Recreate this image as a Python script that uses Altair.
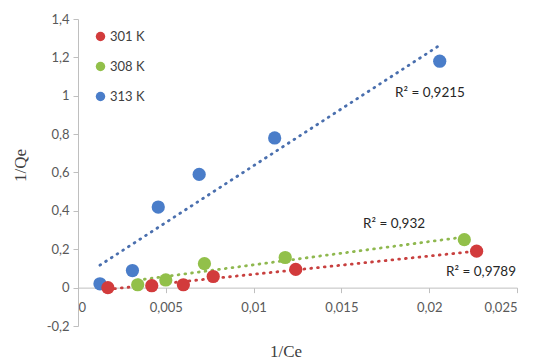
import altair as alt
import pandas as pd

# Langmuir linearisation: 1/Qe against 1/Ce at three temperatures
series_labels = ["313 K", "308 K", "301 K"]

inv_ce_313 = [0.00125, 0.0031, 0.00457, 0.0069, 0.0112, 0.0206]
inv_qe_313 = [0.02, 0.089, 0.42, 0.59, 0.78, 1.18]

inv_ce_308 = [0.0034, 0.0050, 0.0072, 0.0118, 0.0220]
inv_qe_308 = [0.015, 0.040, 0.125, 0.157, 0.250]

inv_ce_301 = [0.0017, 0.0042, 0.0060, 0.0077, 0.0124, 0.0227]
inv_qe_301 = [0.000, 0.010, 0.015, 0.058, 0.095, 0.190]

x_ticks = [0, 0.005, 0.01, 0.015, 0.02, 0.025]
y_ticks = [-0.2, 0, 0.2, 0.4, 0.6, 0.8, 1, 1.2, 1.4]

r2_labels = ["R² = 0,9215", "R² = 0,932", "R² = 0,9789"]
r2_x = [0.01805, 0.01623, 0.02096]
r2_y = [1.013, 0.334, 0.084]

legend_order = ["301 K", "308 K", "313 K"]
point_colors = ["#d23b3c", "#92c04a", "#4a7dc9"]
trend_colors = ["#c8403f", "#8fb84f", "#4a6fae"]

rows = []
for name, xs, ys in zip(series_labels,
                        [inv_ce_313, inv_ce_308, inv_ce_301],
                        [inv_qe_313, inv_qe_308, inv_qe_301]):
    for x, y in zip(xs, ys):
        rows.append({"T": name, "x": x, "y": y})
df = pd.DataFrame(rows)

labels_df = pd.DataFrame({"label": r2_labels, "x": r2_x, "y": r2_y})

W, H = 439, 307
y_min, y_max = -0.2, 1.4
zero_offset = -H * (0 - y_min) / (y_max - y_min)

comma_expr = "replace(replace(format(datum.value, '~g'), '.', ','), '\u2212', '-')"

x_scale = alt.Scale(domain=[0, 0.025], nice=False, zero=False)
y_scale = alt.Scale(domain=[y_min, y_max], nice=False, zero=False)

x_axis = alt.Axis(
    title="1/Ce", values=x_ticks, tickCount=len(x_ticks),
    labelExpr=comma_expr, offset=zero_offset, grid=False,
    labelOverlap=False,
    domainColor="#bfbfbf", tickColor="#bfbfbf", tickSize=5,
    labelColor="#595959", labelFont="Lato", labelFontSize=13,
    labelPadding=9,
    titleFont="Liberation Serif", titleFontSize=17, titleFontWeight="normal",
    titleColor="#404040", titleBaseline="top", titleY=-zero_offset + 17,
    titleX=W / 2 - 12,
)
y_axis = alt.Axis(
    title="1/Qe", values=y_ticks, tickCount=len(y_ticks),
    labelExpr=comma_expr, grid=False, labelOverlap=False,
    domainColor="#bfbfbf", tickColor="#bfbfbf", tickSize=5,
    labelColor="#595959", labelFont="Lato", labelFontSize=13,
    labelPadding=4,
    titleFont="Liberation Serif", titleFontSize=17, titleFontWeight="normal",
    titleColor="#404040", titleAngle=-90, titleAlign="center",
    titleBaseline="middle", titleX=-58, titleY=146,
)

x_enc = alt.X("x:Q", scale=x_scale, axis=x_axis)
y_enc = alt.Y("y:Q", scale=y_scale, axis=y_axis)

trend = alt.Chart(df).transform_regression(
    "x", "y", groupby=["T"]
).mark_line(
    strokeDash=[0.8, 6], strokeWidth=2.8, strokeCap="round"
).encode(
    x=x_enc,
    y=y_enc,
    color=alt.Color("T:N", scale=alt.Scale(domain=legend_order, range=trend_colors),
                    legend=None),
    detail="T:N",
)

points = alt.Chart(df).mark_circle(size=175, opacity=1).encode(
    x=x_enc,
    y=y_enc,
    color=alt.Color(
        "T:N",
        scale=alt.Scale(domain=legend_order, range=point_colors),
        legend=alt.Legend(
            title=None, orient="none", legendX=16, legendY=11,
            symbolType="circle", symbolSize=90, symbolStrokeWidth=0,
            labelFont="Lato", labelFontSize=13, labelColor="#404040",
            rowPadding=16, labelOffset=3,
        ),
    ),
)

r2_text = alt.Chart(labels_df).mark_text(
    align="left", baseline="middle", font="Lato", fontSize=13.5, color="#262626"
).encode(
    x=x_enc,
    y=y_enc,
    text="label:N",
)

chart = alt.layer(trend, points, r2_text).resolve_scale(
    color="independent"
).properties(
    width=W, height=H,
    autosize=alt.AutoSizeParams(type="none"),
    padding={"left": 78, "top": 19, "right": 17, "bottom": 36},
    background="white",
).configure_view(stroke=None)

chart.save("out.html", embed_options={"renderer": "svg", "actions": False})
